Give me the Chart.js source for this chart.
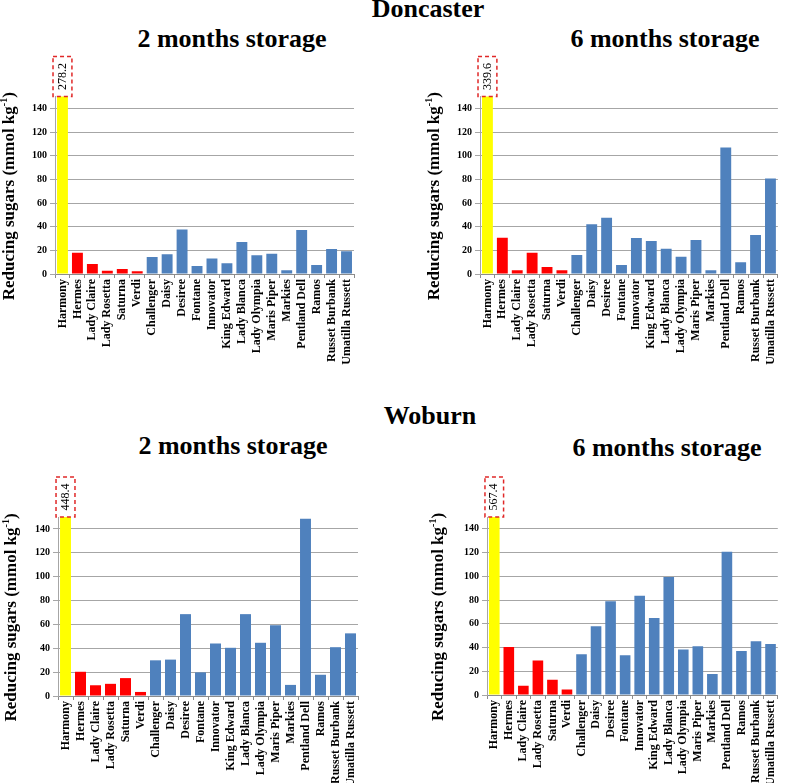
<!DOCTYPE html>
<html>
<head>
<meta charset="utf-8">
<script src="https://cdn.jsdelivr.net/npm/chart.js@4"></script>
<style>
  body { margin: 0; width: 786px; height: 783px; position: relative; background: #fff; overflow: hidden; font-family: "Liberation Serif", serif; }
  canvas { position: absolute; }
  .head { position: absolute; font-weight: bold; font-size: 26px; line-height: 1; white-space: nowrap; transform: translate(-50%, -50%); color: #000; }
</style>
</head>
<body>
<div class="head" style="left:428px;top:9px">Doncaster</div>
<div class="head" style="left:232px;top:39px">2 months storage</div>
<div class="head" style="left:665px;top:39px">6 months storage</div>
<div class="head" style="left:430px;top:416px">Woburn</div>
<div class="head" style="left:233px;top:446px">2 months storage</div>
<div class="head" style="left:667px;top:448px">6 months storage</div>

<canvas id="don2" width="393" height="380" style="left:0;top:0"></canvas>
<canvas id="don6" width="393" height="380" style="left:393px;top:0"></canvas>
<canvas id="wob2" width="393" height="383" style="left:0;top:400px"></canvas>
<canvas id="wob6" width="393" height="383" style="left:393px;top:400px"></canvas>

<script>
// varieties, in the order they are plotted
const varieties = ["Harmony", "Hermes", "Lady Claire", "Lady Rosetta", "Saturna", "Verdi",
  "Challenger", "Daisy", "Desiree", "Fontane", "Innovator", "King Edward", "Lady Blanca",
  "Lady Olympia", "Maris Piper", "Markies", "Pentland Dell", "Ramos", "Russet Burbank", "Umatilla Russett"];

// reducing sugars, mmol/kg (Harmony is off the scale, value written in the box)
const doncaster2 = [278.2, 18, 8.5, 2.8, 4.2, 2.3, 14.4, 16.6, 37.7, 6.8, 13.2, 9, 27, 15.8, 17.2, 3.1, 37.2, 7.6, 21.1, 19.2];
const doncaster6 = [339.6, 30.7, 3.1, 18, 5.9, 3.1, 16, 42, 47.6, 7.6, 30.4, 27.9, 21.4, 14.6, 28.7, 3.1, 106.8, 9.9, 33, 80.8];
const woburn2 = [448.4, 20.3, 9, 10.2, 15, 3.4, 29.9, 30.5, 68.6, 19.8, 44, 40.4, 68.6, 44.6, 59.3, 9.3, 148.5, 17.8, 40.9, 52.5];
const woburn6 = [567.4, 40.4, 7.7, 29.1, 12.9, 4.6, 34.3, 58, 79, 33.4, 83.7, 64.9, 99.5, 38.3, 41.1, 17.7, 120.8, 37.1, 45.4, 42.9];

// y title pieces: main text, superscript, closing bracket
const yTitleParts = ["Reducing sugars (mmol kg", "-1", ")"];

const YELLOW = "#FFFF00", RED = "#FF0000", BLUE = "#4F81BD";
// first variety yellow, next five red, rest blue
const barColors = varieties.map((v, i) => i === 0 ? YELLOW : (i <= 5 ? RED : BLUE));

Chart.defaults.font.family = '"Liberation Serif", serif';
Chart.defaults.color = "#000";

// dashed box with the real value for bars that run past the axis top
const offScale = {
  id: "offScale",
  afterDatasetsDraw(chart) {
    const ctx = chart.ctx;
    const yMax = chart.scales.y.max;
    const vals = chart.data.datasets[0].data;
    chart.getDatasetMeta(0).data.forEach((bar, i) => {
      if (vals[i] <= yMax) return;
      const w = bar.width + 8, h = 40;
      const x0 = bar.x - w / 2, y0 = chart.chartArea.top - h;
      ctx.save();
      ctx.setLineDash([4, 3]);
      ctx.strokeStyle = "#E02828";
      ctx.lineWidth = 1.5;
      ctx.strokeRect(x0, y0, w, h);
      ctx.translate(bar.x, y0 + h / 2);
      ctx.rotate(-Math.PI / 2);
      ctx.font = '12px "Liberation Serif"';
      ctx.fillStyle = "#000";
      ctx.textAlign = "center";
      ctx.textBaseline = "middle";
      ctx.fillText(vals[i].toFixed(1), 0, 0);
      ctx.restore();
    });
  }
};

// y axis title with a real superscript, a little below the scale centre like the original
const sideTitle = {
  id: "sideTitle",
  afterDraw(chart, args, opts) {
    const ctx = chart.ctx;
    const a = chart.chartArea;
    const big = 'bold 17px "Liberation Serif"', small = 'bold 10px "Liberation Serif"';
    ctx.save();
    ctx.font = big;
    const w0 = ctx.measureText(yTitleParts[0]).width;
    const w2 = ctx.measureText(yTitleParts[2]).width;
    ctx.font = small;
    const w1 = ctx.measureText(yTitleParts[1]).width;
    const total = w0 + w1 + w2;
    ctx.translate(opts.x, (a.top + a.bottom) / 2 + 11);
    ctx.rotate(-Math.PI / 2);
    ctx.fillStyle = "#000";
    ctx.textAlign = "left";
    ctx.textBaseline = "middle";
    let x = -total / 2;
    ctx.font = big;
    ctx.fillText(yTitleParts[0], x, 0);
    x += w0;
    ctx.font = small;
    ctx.fillText(yTitleParts[1], x, -6);
    x += w1;
    ctx.font = big;
    ctx.fillText(yTitleParts[2], x, 0);
    ctx.restore();
  }
};

function makeChart(id, values, yWidth, xHeight, padTop, padRight, titleX) {
  return new Chart(document.getElementById(id), {
    type: "bar",
    data: {
      labels: varieties,
      datasets: [{
        data: values,
        backgroundColor: barColors,
        barPercentage: 0.73,
        categoryPercentage: 1
      }]
    },
    options: {
      responsive: false,
      animation: false,
      devicePixelRatio: 1,
      layout: { padding: { top: padTop, right: padRight, left: 0, bottom: 0 } },
      plugins: {
        legend: { display: false },
        tooltip: { enabled: false },
        sideTitle: { x: titleX }
      },
      scales: {
        x: {
          afterFit: s => { s.height = xHeight; },
          grid: { drawOnChartArea: false, drawTicks: true, tickLength: 4, color: "#8C8C8C", offset: true },
          border: { color: "#8C8C8C" },
          ticks: {
            autoSkip: false, minRotation: 90, maxRotation: 90, padding: 1,
            font: { size: 12, weight: "bold" }
          }
        },
        y: {
          min: 0,
          max: 150,
          bounds: "data",
          afterFit: s => { s.width = yWidth; },
          // axis top is 150 but the last labelled line is 140
          afterBuildTicks: s => { s.ticks = s.ticks.filter(t => t.value <= 140); },
          grid: { color: "#A6A6A6", tickLength: 5 },
          border: { color: "#A6A6A6" },
          ticks: { stepSize: 20, padding: 3, font: { size: 10, weight: "bold" } }
        }
      }
    },
    plugins: [offScale, sideTitle]
  });
}

makeChart("don2", doncaster2, 55, 106, 96.5, 39, 10);
makeChart("don6", doncaster6, 87, 106, 96.5, 6, 42);
makeChart("wob2", woburn2, 58, 87, 117, 35, 12);
makeChart("wob6", woburn6, 94, 88, 117, 3, 46);
</script>
</body>
</html>
